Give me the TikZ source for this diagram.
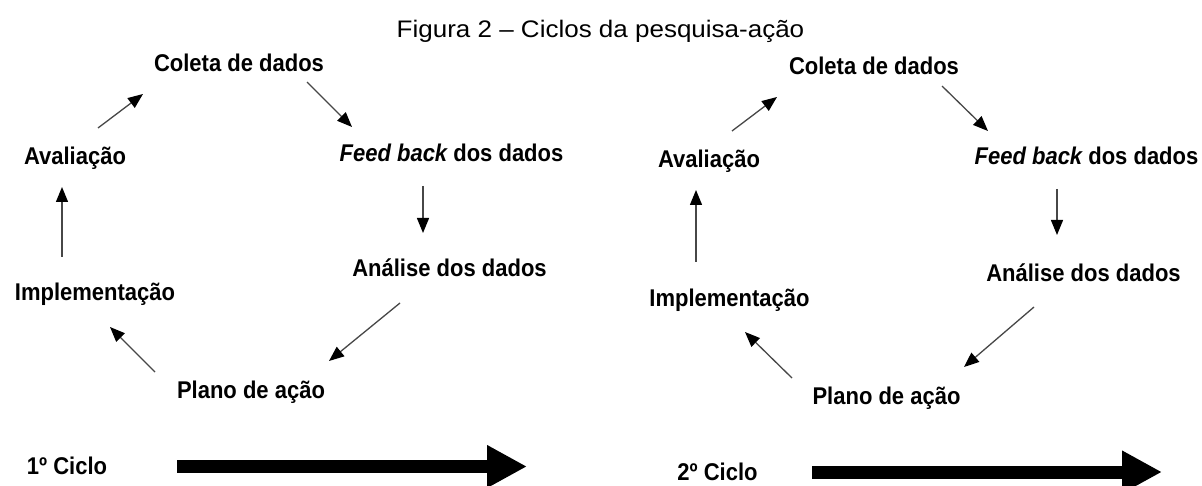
\documentclass[tikz,border=0pt]{standalone}
\usepackage{fontspec}
\setmainfont{Liberation Sans}
\usetikzlibrary{arrows.meta}
\newcommand{\lbltxt}[1]{\scalebox{1}[1.1]{#1}}
\begin{document}
\begin{tikzpicture}[x=1pt,y=-1pt,
  lbl/.style={font=\bfseries\fontsize{22}{26}\selectfont, inner sep=0pt, anchor=base},
  arr/.style={draw=black!72, line width=1.3pt, -{Triangle[length=15pt,width=12pt,color=black]}},
  bigarr/.style={draw=black, line width=13pt, -{Triangle[length=40pt,width=40pt]}}]
\fill[white] (0,0) rectangle (1202,486);
\useasboundingbox (0,0) rectangle (1202,486);

\node[inner sep=0pt, anchor=base] (title) at (600.5,38)
  {\scalebox{1}[0.92]{\fontsize{26}{30}\selectfont Figura 2 – Ciclos da pesquisa-ação}};

% first cycle
\node[lbl] (coleta1) at (239,72) {\lbltxt{Coleta de dados}};
\node[lbl] (aval1) at (75,165) {\lbltxt{Avaliação}};
\node[lbl] (feed1) at (451.5,162) {\lbltxt{{\itshape Feed back} dos dados}};
\node[lbl] (anal1) at (449.5,277) {\lbltxt{Análise dos dados}};
\node[lbl] (impl1) at (95,301) {\lbltxt{Implementação}};
\node[lbl] (plano1) at (251,398) {\lbltxt{Plano de ação}};
\node[lbl] (ciclo1) at (67,474) {\lbltxt{1º Ciclo}};

\draw[arr] ([shift={(23,-37)}]aval1.base) -- ([shift={(-96,22)}]coleta1.base);
\draw[arr] ([shift={(68,10)}]coleta1.base) -- ([shift={(-99.5,-35)}]feed1.base);
\draw[arr] ([shift={(-28.5,24)}]feed1.base) -- ([shift={(-26.5,-44)}]anal1.base);
\draw[arr] ([shift={(-49.5,26)}]anal1.base) -- ([shift={(78,-37)}]plano1.base);
\draw[arr] ([shift={(-96,-26)}]plano1.base) -- ([shift={(15,26)}]impl1.base);
\draw[arr] ([shift={(-33,-44)}]impl1.base) -- ([shift={(-13,22)}]aval1.base);

\coordinate (s1) at (177,466.5);
\coordinate (e1) at (527,466.5);
\draw[bigarr] (s1) -- (e1);

% second cycle
\node[lbl] (coleta2) at (874,75) {\lbltxt{Coleta de dados}};
\node[lbl] (aval2) at (709,168) {\lbltxt{Avaliação}};
\node[lbl] (feed2) at (1086.5,165) {\lbltxt{{\itshape Feed back} dos dados}};
\node[lbl] (anal2) at (1083.5,282) {\lbltxt{Análise dos dados}};
\node[lbl] (impl2) at (729.5,306) {\lbltxt{Implementação}};
\node[lbl] (plano2) at (886.5,404) {\lbltxt{Plano de ação}};
\node[lbl] (ciclo2) at (717.5,480) {\lbltxt{2º Ciclo}};

\draw[arr] ([shift={(23,-37)}]aval2.base) -- ([shift={(-97,22)}]coleta2.base);
\draw[arr] ([shift={(68,11)}]coleta2.base) -- ([shift={(-98.5,-34)}]feed2.base);
\draw[arr] ([shift={(-29.5,24)}]feed2.base) -- ([shift={(-26.5,-47)}]anal2.base);
\draw[arr] ([shift={(-49.5,25)}]anal2.base) -- ([shift={(77.5,-37)}]plano2.base);
\draw[arr] ([shift={(-94.5,-26)}]plano2.base) -- ([shift={(15.5,26)}]impl2.base);
\draw[arr] ([shift={(-33.5,-44)}]impl2.base) -- ([shift={(-13,22)}]aval2.base);

\coordinate (s2) at (812,472);
\coordinate (e2) at (1162,472);
\draw[bigarr] (s2) -- (e2);
\end{tikzpicture}
\end{document}
